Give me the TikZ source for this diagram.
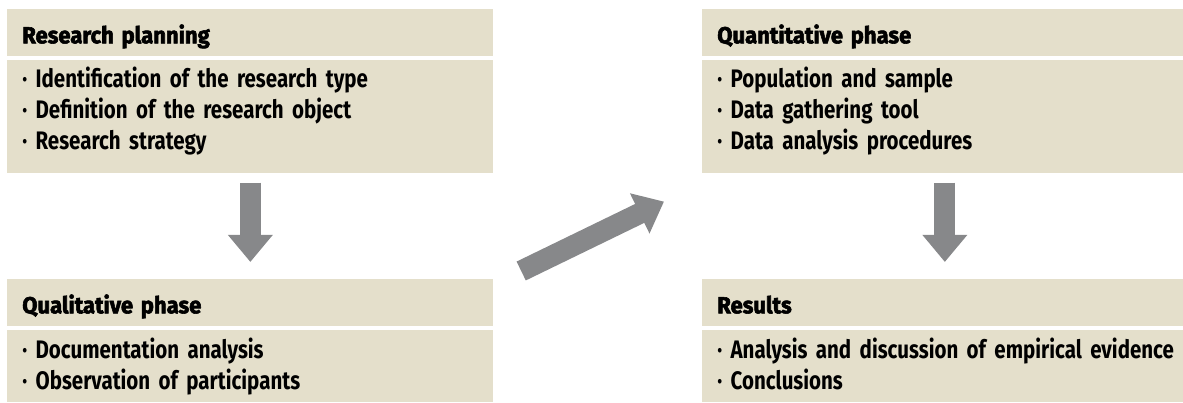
\documentclass[tikz,border=0pt]{standalone}
\usepackage{fontspec}
\setmainfont{Fira Sans}
\newfontfamily\bodyfont[FakeStretch=0.81]{Fira Sans}
\newfontfamily\headfont[FakeStretch=0.95, BoldFeatures={FakeBold=2.5}]{Fira Sans}
\usetikzlibrary{arrows.meta}
\definecolor{boxsand}{HTML}{E4DFCB}
\definecolor{arrowgrey}{HTML}{87888A}

\begin{document}
\begin{tikzpicture}
  [x=0.025cm, y=-0.025cm,
   every node/.style={fill=boxsand, anchor=north west, inner xsep=0.375cm, inner ysep=0, align=left},
   head/.style={font=\headfont\bfseries\fontsize{16.5}{19}\selectfont, text height=0.85cm, text depth=0.325cm},
   tallbody/.style={font=\bodyfont\bfseries\fontsize{18}{22}\selectfont, text height=0.675cm, text depth=2.15cm},
   shortbody/.style={font=\bodyfont\bfseries\fontsize{18}{22}\selectfont, text height=0.7cm, text depth=1.1cm},
   bigarrow/.style={draw=arrowgrey, line width=0.525cm, -{Triangle[width=1.075cm, length=0.675cm]}}]

  \useasboundingbox (0,0) rectangle (1183,402);

  \node[head, text width=11.4cm] (planhead) at (7, 9) {Research planning};
  \node[tallbody, text width=11.4cm] (planbody) at (7, 60) {· Identification of the research type\\· Definition of the research object\\· Research strategy};

  \node[head, text width=11.4cm] (qualhead) at (7, 279) {Qualitative phase};
  \node[shortbody, text width=11.4cm] (qualbody) at (7, 330) {· Documentation analysis\\· Observation of participants};

  \node[head, text width=11.275cm] (quanthead) at (702, 9) {Quantitative phase};
  \node[tallbody, text width=11.275cm] (quantbody) at (702, 60) {· Population and sample\\· Data gathering tool\\· Data analysis procedures};

  \node[head, text width=11.275cm] (reshead) at (702, 279) {Results};
  \node[shortbody, text width=11.275cm] (resbody) at (702, 330) {\mbox{· Analysis and discussion of empirical evidence}\\· Conclusions};

  \draw[bigarrow] ([yshift=-0.225cm]planbody.south) -- ([yshift=0.425cm]qualhead.north);
  \draw[bigarrow] ([xshift=0.6875cm, yshift=0.2cm]qualhead.north east) -- ([xshift=-0.95cm, yshift=-0.7cm]quantbody.south west);
  \draw[bigarrow] ([xshift=0.05cm, yshift=-0.225cm]quantbody.south) -- ([xshift=0.05cm, yshift=0.425cm]reshead.north);
\end{tikzpicture}
\end{document}
